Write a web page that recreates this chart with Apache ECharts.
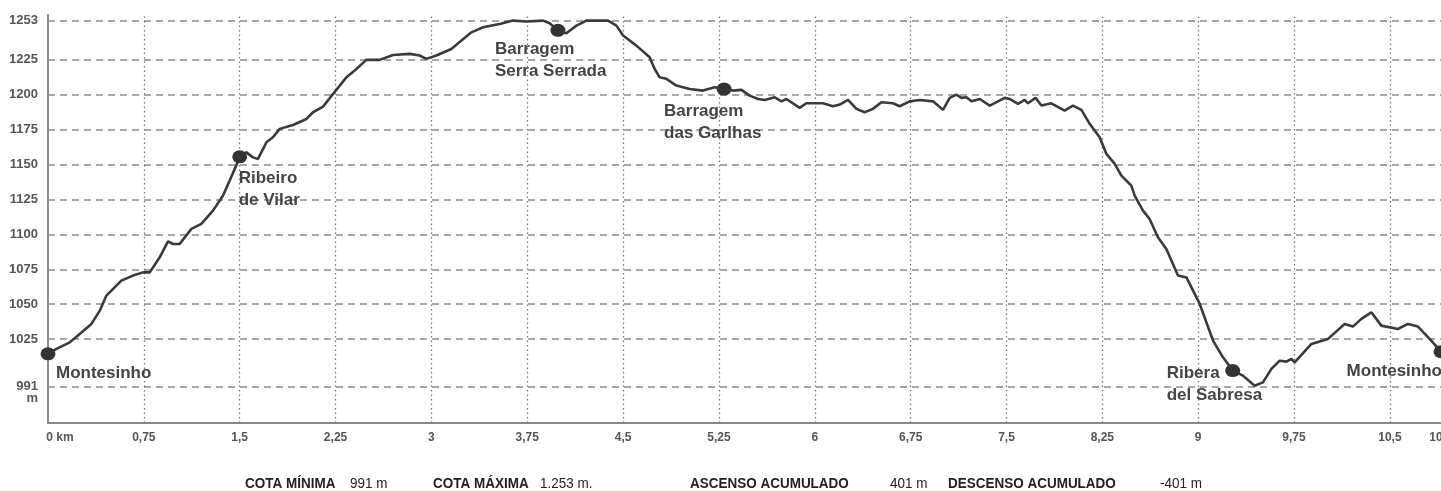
<!DOCTYPE html>
<html><head><meta charset="utf-8">
<script src="https://cdn.jsdelivr.net/npm/echarts@6/dist/echarts.min.js"></script>
<style>html,body{margin:0;padding:0;background:#fff}#c{width:1441px;height:491px}</style>
</head><body><div id="c"></div>
<script>
const distanceKm = [0,0.066,0.17,0.248,0.34,0.405,0.457,0.574,0.665,0.743,0.796,0.874,0.939,0.978,1.03,1.122,1.2,1.291,1.369,1.422,1.5,1.552,1.604,1.643,1.709,1.76,1.813,1.917,2.022,2.074,2.152,2.23,2.335,2.4,2.49,2.595,2.7,2.83,2.908,2.961,3.039,3.156,3.235,3.313,3.404,3.534,3.638,3.743,3.873,3.926,3.99,4.056,4.135,4.213,4.382,4.448,4.5,4.604,4.708,4.747,4.786,4.839,4.917,5.021,5.125,5.217,5.295,5.36,5.426,5.49,5.556,5.608,5.687,5.739,5.778,5.882,5.934,6.064,6.142,6.195,6.26,6.326,6.39,6.455,6.521,6.612,6.664,6.743,6.82,6.925,6.964,7.003,7.056,7.108,7.147,7.186,7.226,7.291,7.369,7.486,7.525,7.59,7.642,7.668,7.728,7.773,7.851,7.955,8.02,8.086,8.151,8.229,8.282,8.347,8.399,8.477,8.503,8.568,8.62,8.685,8.751,8.842,8.908,9.012,9.116,9.194,9.272,9.35,9.442,9.507,9.573,9.638,9.69,9.729,9.755,9.886,10.016,10.146,10.211,10.277,10.355,10.433,10.563,10.641,10.72,10.811,10.9];
const elevationM = [1014.5,1018,1022.7,1028.7,1035.9,1045.4,1056.2,1066.9,1070.5,1072.8,1072.8,1083.6,1095,1093.1,1093.1,1103.9,1107.5,1117,1127.7,1138.5,1155.1,1158.7,1155.1,1154,1165.9,1169.5,1175.5,1178.3,1182.6,1187.4,1191.4,1200.5,1212.4,1217.2,1224.9,1224.9,1228.4,1229.2,1228,1225.6,1228,1232.7,1238.7,1244.6,1248.2,1250.6,1253,1252.3,1253,1251.1,1245.8,1243.9,1249.4,1253,1253,1249.4,1242.3,1235.1,1226.7,1218.4,1212.4,1211.3,1206.5,1204.1,1202.9,1205.3,1204.1,1202.9,1203.4,1199.3,1196.9,1196.2,1198.1,1195.2,1196.9,1190.5,1193.8,1193.8,1191.7,1192.9,1196.2,1189.8,1187.4,1189.8,1194.5,1193.8,1191.7,1195.2,1196.2,1195.2,1192.2,1189.1,1197.7,1200,1197.7,1198.1,1195.2,1196.9,1192.2,1197.7,1196.9,1193.4,1196.2,1193.8,1197.7,1192.2,1193.8,1188.6,1192.2,1189.1,1179.1,1169.5,1157.6,1150.4,1142,1134.9,1127.7,1117,1111,1097.9,1089.6,1070.5,1069.2,1050.2,1024,1012,1002.5,998.9,991.7,994.1,1003.7,1009.6,1008.9,1010.8,1008.4,1021.6,1025.2,1035.9,1034,1039.5,1044.2,1034.7,1032.3,1035.9,1034,1025.2,1016];

const yTickValues = [991,1025,1050,1075,1100,1125,1150,1175,1200,1225,1253];
const xTickValues = [0,0.75,1.5,2.25,3,3.75,4.5,5.25,6,6.75,7.5,8.25,9,9.75,10.5,10.9];

const placeNames = ['Montesinho','Ribeiro\nde Vilar','Barragem\nSerra Serrada','Barragem\ndas Garlhas','Ribera\ndel Sabresa','Montesinho'];
const placeKm = [0,1.5,3.99,5.29,9.27,10.9];
const placeElev = [1014.5,1155.5,1246,1204,1002.5,1016];

const footerLabels = ['COTA MÍNIMA','COTA MÁXIMA','ASCENSO ACUMULADO','DESCENSO ACUMULADO'];
const footerValues = ['991 m','1.253 m.','401 m','-401 m'];

// layout / styling only
const labelLayout = [
  {dx:8, dy:19, align:'left'},
  {dx:-1, dy:32, align:'left'},
  {dx:-63, dy:30, align:'left'},
  {dx:-60, dy:33, align:'left'},
  {dx:-66, dy:14, align:'left'},
  {dx:1, dy:20, align:'right'}
];
const footerLabelX = [245, 433, 690, 948];
const footerValueX = [350, 540, 890, 1160];

const chart = echarts.init(document.getElementById('c'));
const AXIS_FONT = '"Liberation Sans", Arial, sans-serif';

const footerGraphics = [];
footerLabels.forEach((l, i) => {
  footerGraphics.push({
    type: 'text', x: footerLabelX[i], y: 484, scaleX: 0.93, silent: true,
    style: {text: l, fill: '#222', fontFamily: AXIS_FONT, fontWeight: 'bold', fontSize: 14.5, verticalAlign: 'middle', align: 'left'}
  });
  footerGraphics.push({
    type: 'text', x: footerValueX[i], y: 484, scaleX: 0.93, silent: true,
    style: {text: footerValues[i], fill: '#222', fontFamily: AXIS_FONT, fontWeight: 'normal', fontSize: 14.5, verticalAlign: 'middle', align: 'left'}
  });
});

const gridStyleH = {type: [7, 5], color: '#8c8c8c', width: 1.6};
const gridStyleV = {type: [1.5, 3], color: '#7a7a7a', width: 1.3};

const option = {
  animation: false,
  graphic: footerGraphics,
  grid: {left: 48, right: 0, top: 15, bottom: 68, containLabel: false, outerBoundsMode: 'none'},
  xAxis: {
    type: 'value', min: 0, max: 10.9,
    axisLine: {show: true, lineStyle: {color: '#8a8a8a', width: 2}},
    axisTick: {show: false},
    splitLine: {show: false},
    axisLabel: {
      customValues: xTickValues,
      color: '#555', fontWeight: 'bold', fontSize: 12, fontFamily: AXIS_FONT, margin: 9,
      formatter: v => v === 0 ? '{z|0 km}' : String(v).replace('.', ','),
      rich: {z: {color: '#555', fontWeight: 'bold', fontSize: 12, fontFamily: AXIS_FONT, padding: [0, 0, 0, 24]}}
    }
  },
  yAxis: {
    type: 'value', min: 965, max: 1257,
    axisLine: {show: true, lineStyle: {color: '#8a8a8a', width: 2}},
    axisTick: {show: false},
    splitLine: {show: false},
    axisLabel: {
      customValues: yTickValues,
      color: '#555', fontWeight: 'bold', fontSize: 13, fontFamily: AXIS_FONT, margin: 10, lineHeight: 12,
      formatter: v => v === 991 ? ' \n991\nm' : String(v)
    }
  },
  series: [
    {
      type: 'line', data: [], z: 1, silent: true,
      markLine: {
        symbol: 'none', silent: true, animation: false,
        label: {show: false},
        data: yTickValues.map(v => ({yAxis: v, lineStyle: gridStyleH}))
          .concat(xTickValues.filter(v => v > 0 && v < 10.9).map(v => ({xAxis: v, lineStyle: gridStyleV})))
      }
    },
    {
      type: 'line', z: 5, showSymbol: false, smooth: false,
      lineStyle: {color: '#3a3a3a', width: 2.6},
      data: distanceKm.map((d, i) => [d, elevationM[i]])
    },
    {
      type: 'scatter', z: 6,
      symbol: 'circle', symbolSize: [15, 13],
      itemStyle: {color: '#333', opacity: 1},
      data: placeKm.map((d, i) => ({
        value: [d, placeElev[i]],
        name: placeNames[i],
        label: {
          show: true, position: 'inside', formatter: '{b}',
          offset: [labelLayout[i].dx, labelLayout[i].dy],
          align: labelLayout[i].align, verticalAlign: 'middle',
          color: '#444', fontWeight: 'bold', fontSize: 17, lineHeight: 22,
          fontFamily: AXIS_FONT
        }
      }))
    }
  ]
};
chart.setOption(option);
</script></body></html>
